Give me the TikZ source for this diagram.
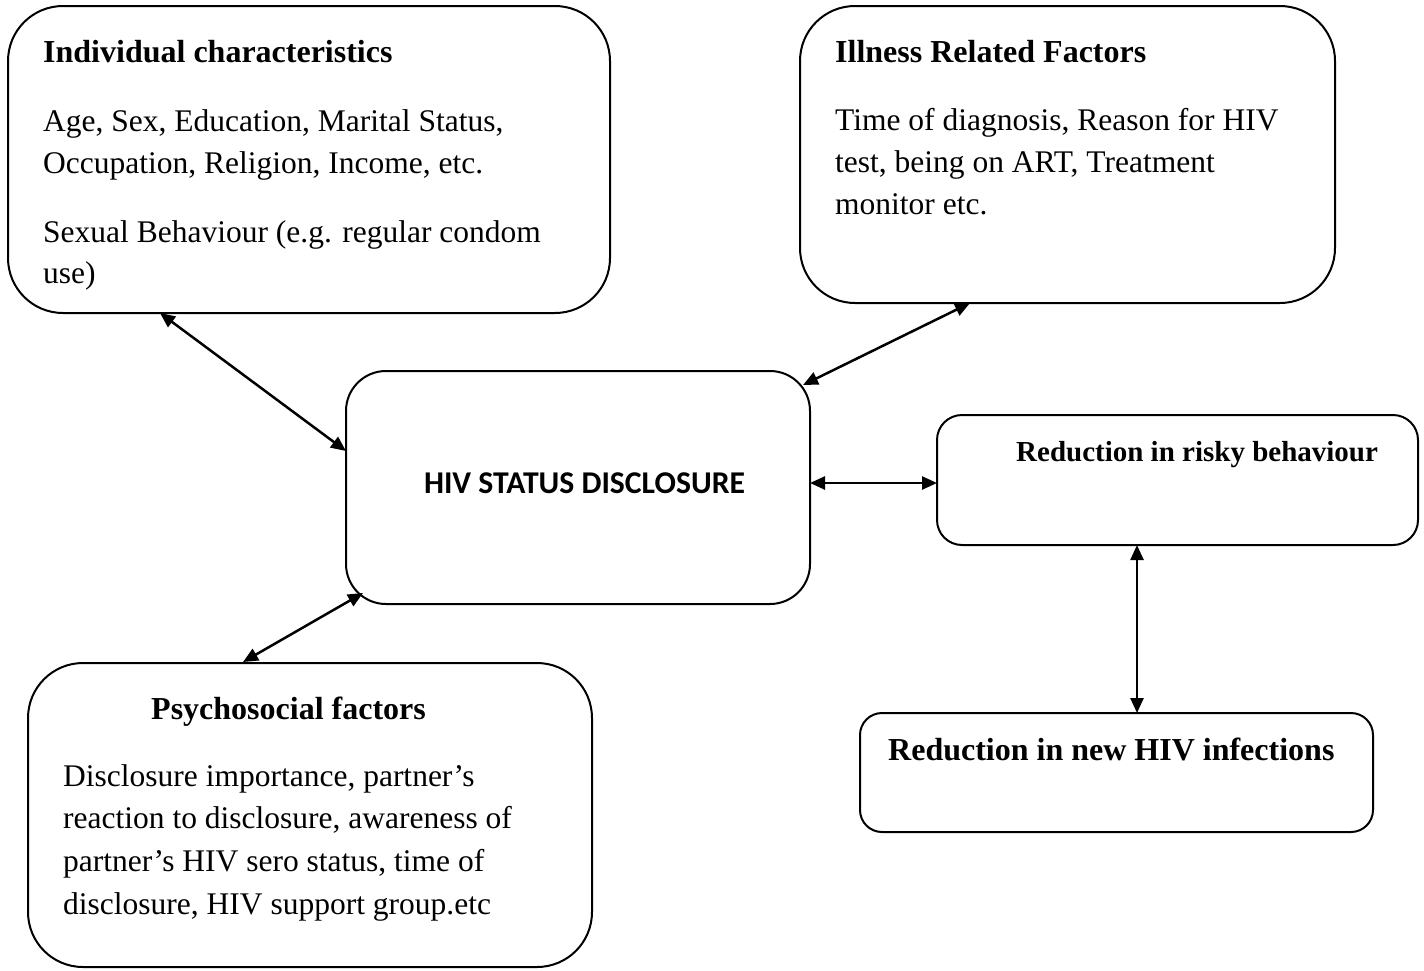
\documentclass[tikz,border=0pt]{standalone}
\usepackage{fontspec}
\setmainfont{Liberation Serif}
\newfontfamily\calib{Carlito}
\usetikzlibrary{arrows.meta,calc}
\begin{document}
\begin{tikzpicture}[x=1pt,y=-1pt,
  box/.style={draw=black,line width=2pt,inner sep=0pt,outer sep=0pt},
  txt/.style={anchor=base west,inner sep=0pt,font=\fontsize{31.5}{42}\selectfont},
  hdr/.style={anchor=base west,inner sep=0pt,font=\fontsize{32}{42}\selectfont\bfseries},
  link/.style={line width=2.5pt,{Triangle[length=15pt,width=13pt]}-{Triangle[length=15pt,width=13pt]}}
]
\useasboundingbox (0,0) rectangle (1424,970);
% boxes
\node[box,rounded corners=55pt,minimum width=602pt,minimum height=307pt] (b1) at (309,159.5) {};
\node[box,rounded corners=55pt,minimum width=535pt,minimum height=297pt] (b2) at (1067.5,154.5) {};
\node[box,rounded corners=40pt,minimum width=464pt,minimum height=233pt] (b3) at (578,487.5) {};
\node[box,rounded corners=25pt,minimum width=481pt,minimum height=130pt] (b4) at (1177.5,480) {};
\node[box,rounded corners=55pt,minimum width=564pt,minimum height=304pt] (b5) at (310,815) {};
\node[box,rounded corners=22pt,minimum width=513pt,minimum height=119pt] (b6) at (1116.5,772.5) {};
% texts box 1
\node[hdr] (t11) at (43,62) {Individual characteristics};
\node[txt] (t12) at (43,131) {Age, Sex, Education, Marital Status,};
\node[txt] (t13) at (43,173) {Occupation, Religion, Income, etc.};
\node[txt] (t14) at (43,242) {Sexual Behaviour (e.g. regular condom};
\node[txt] (t15) at (43,283) {use)};
% box 2
\node[hdr] (t21) at (835,62) {Illness Related Factors};
\node[txt] (t22) at (835,130) {Time of diagnosis, Reason for HIV};
\node[txt] (t23) at (835,172) {test, being on ART, Treatment};
\node[txt] (t24) at (835,214) {monitor etc.};
% box 3
\node[anchor=base,inner sep=0pt,font=\calib\fontsize{31.7}{38}\selectfont\bfseries] (t31) at (584.5,493) {HIV STATUS DISCLOSURE};
% box 4
\node[anchor=base west,inner sep=0pt,font=\fontsize{29}{36}\selectfont\bfseries] (t41) at (1016,461) {Reduction in risky behaviour};
% box 5
\node[hdr] (t51) at (151,719) {Psychosocial factors};
\node[txt] (t52) at (63,786) {Disclosure importance, partner’s};
\node[txt] (t53) at (63,828) {reaction to disclosure, awareness of};
\node[txt] (t54) at (63,871) {partner’s HIV sero status, time of};
\node[txt] (t55) at (63,914) {disclosure, HIV support group.etc};
% box 6
\node[hdr] (t61) at (888,760) {Reduction in new HIV infections};
% connectors
\draw[link] ($(b1.south west)+(152,0)$) -- ($(b3.north west)+(0,80)$);
\draw[link] ($(b2.south west)+(170,0)$) -- ($(b3.north east)+(-7,14)$);
\draw[link] ($(b3.north east)+(0,112)$) -- ($(b4.north west)+(0,68)$);
\draw[link] ($(b4.south west)+(200,0)$) -- ($(b6.north west)+(277,0)$);
\draw[link] ($(b3.south west)+(17,-11)$) -- ($(b5.north west)+(215,-1)$);
\end{tikzpicture}
\end{document}
